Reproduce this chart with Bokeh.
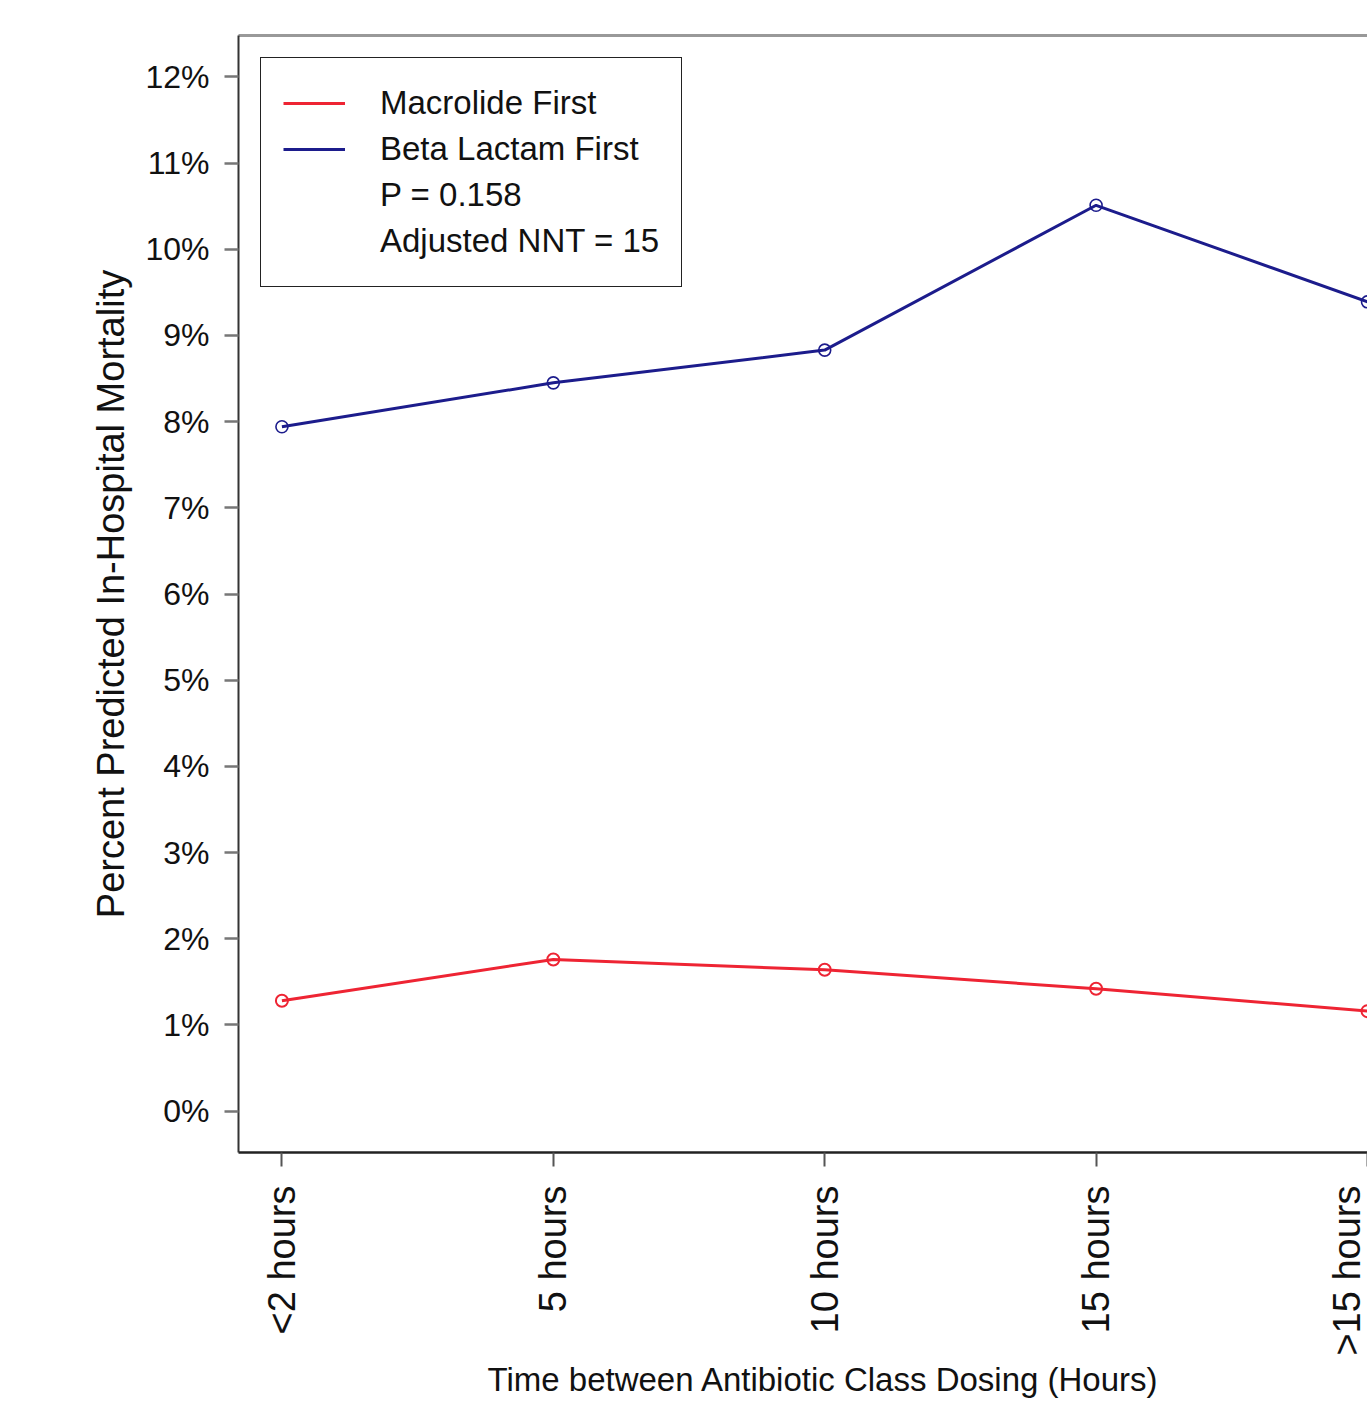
import math
from bokeh.plotting import figure
from bokeh.models import (Range1d, FixedTicker, LinearAxis, Legend, LegendItem,
                          Title, ColumnDataSource)
from bokeh.embed import file_html
from bokeh.resources import INLINE

# ---- data ----
categories = ["<2 hours", "5 hours", "10 hours", "15 hours", ">15 hours"]
positions = [1, 2, 3, 4, 5]
macrolide_first = [1.28, 1.76, 1.64, 1.42, 1.16]
beta_lactam_first = [7.94, 8.45, 8.83, 10.51, 9.39]
y_ticks = [0, 1, 2, 3, 4, 5, 6, 7, 8, 9, 10, 11, 12]
y_tick_labels = [f"{t}%" for t in y_ticks]
legend_labels = ["Macrolide First", "Beta Lactam First", "P = 0.158", "Adjusted NNT = 15"]
x_title = "Time between Antibiotic Class Dosing (Hours)"
y_title = "Percent Predicted In-Hospital Mortality"

RED = "#ee2433"
BLUE = "#1c1c8c"
FONT = "Liberation Sans"

src = ColumnDataSource(dict(x=positions, mac=macrolide_first, beta=beta_lactam_first))

p = figure(width=1367, height=1400,
           x_range=Range1d(0.84, 5.0), y_range=Range1d(-0.48, 12.48),
           output_backend="svg", toolbar_location=None,
           min_border_left=238, min_border_right=0, min_border_top=35,
           min_border_bottom=248)
p.xgrid.visible = False
p.ygrid.visible = False
p.outline_line_color = None
p.background_fill_color = "white"
p.border_fill_color = "white"

r_mac = p.line("x", "mac", source=src, line_color=RED, line_width=3)
p.scatter("x", "mac", source=src, marker="circle", size=12, fill_color=None,
          line_color=RED, line_width=2)
r_beta = p.line("x", "beta", source=src, line_color=BLUE, line_width=3)
p.scatter("x", "beta", source=src, marker="circle", size=12, fill_color=None,
          line_color=BLUE, line_width=1.6)

d1 = p.line(x=[], y=[], line_alpha=0)
d2 = p.line(x=[], y=[], line_alpha=0)

# ---- axes ----
xa = p.xaxis[0]
xa.ticker = FixedTicker(ticks=positions)
xa.major_label_overrides = {pos: c for pos, c in zip(positions, categories)}
xa.major_label_orientation = math.pi / 2
xa.major_label_text_font = FONT
xa.major_label_text_font_size = "38px"
xa.major_label_text_color = "#111111"
xa.major_label_standoff = 19
xa.major_tick_out = 14
xa.major_tick_in = 0
xa.minor_tick_line_color = None
xa.major_tick_line_color = "#555555"
xa.major_tick_line_width = 2
xa.axis_line_color = "#222222"
xa.axis_line_width = 2.5

ya = p.yaxis[0]
ya.ticker = FixedTicker(ticks=y_ticks)
ya.major_label_overrides = {t: l for t, l in zip(y_ticks, y_tick_labels)}
ya.major_label_text_font = FONT
ya.major_label_text_font_size = "32px"
ya.major_label_text_color = "#111111"
ya.major_label_standoff = 15
ya.major_tick_out = 14
ya.major_tick_in = 0
ya.minor_tick_line_color = None
ya.major_tick_line_color = "#777777"
ya.major_tick_line_width = 2.5
ya.axis_line_color = "#333333"
ya.axis_line_width = 2
ya.axis_label = y_title
ya.axis_label_text_font = FONT
ya.axis_label_text_font_size = "38px"
ya.axis_label_text_font_style = "normal"
ya.axis_label_text_color = "#111111"
ya.axis_label_standoff = 10

top = LinearAxis(ticker=FixedTicker(ticks=[]), major_label_text_font_size="0px",
                 major_tick_out=0, major_tick_in=0, minor_tick_line_color=None,
                 axis_line_color="#999999", axis_line_width=3)
p.add_layout(top, "above")

# x-axis title, placed over the full (uncropped) data span
p.add_layout(Title(text=x_title, align="left", offset=249, standoff=0,
                   text_font=FONT, text_font_size="33px",
                   text_font_style="normal", text_color="#111111"), "below")

legend = Legend(items=[LegendItem(label=legend_labels[0], renderers=[r_mac]),
                       LegendItem(label=legend_labels[1], renderers=[r_beta]),
                       LegendItem(label=legend_labels[2], renderers=[d1]),
                       LegendItem(label=legend_labels[3], renderers=[d2])],
                location="top_left")
legend.margin = 22
legend.padding = 22
legend.spacing = 0
legend.glyph_width = 62
legend.glyph_height = 46
legend.label_standoff = 35
legend.label_text_font = FONT
legend.label_text_font_size = "33px"
legend.label_text_color = "#111111"
legend.border_line_color = "#222222"
legend.border_line_alpha = 1.0
legend.border_line_width = 1.5
legend.background_fill_color = "white"
legend.background_fill_alpha = 1.0
p.add_layout(legend)

open("out.html", "w").write(file_html(p, INLINE))
